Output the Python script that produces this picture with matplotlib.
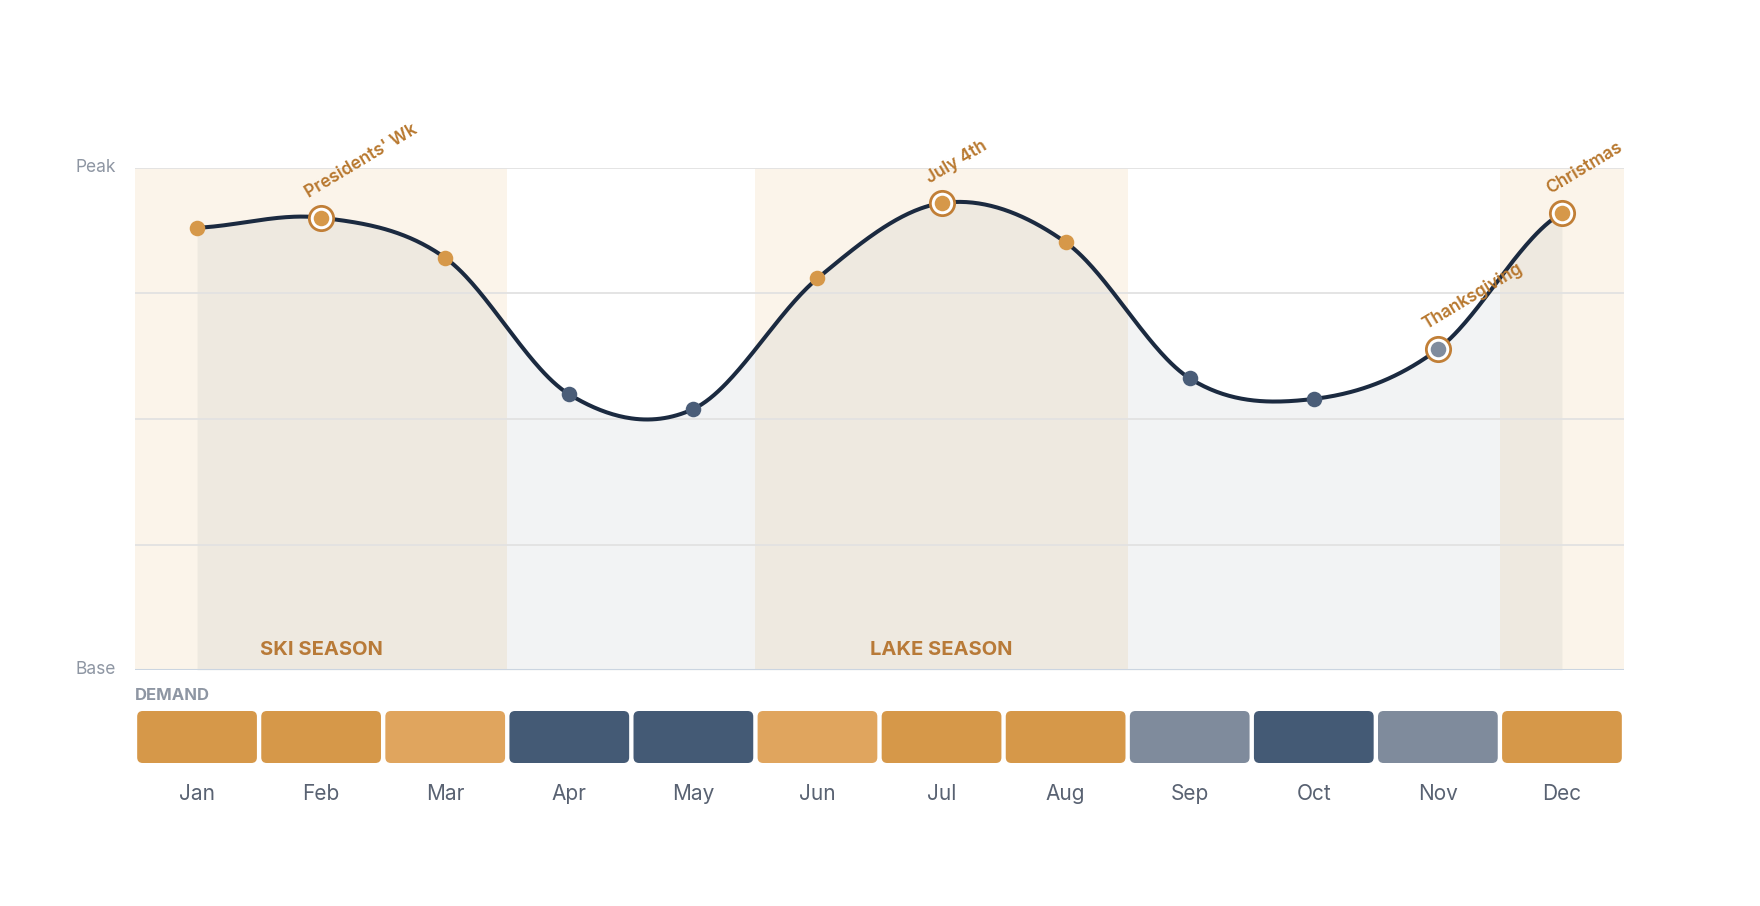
import numpy as np
import matplotlib
matplotlib.use("Agg")
import matplotlib.pyplot as plt
from matplotlib.patches import FancyBboxPatch
from matplotlib.transforms import blended_transform_factory

plt.rcParams['font.family'] = ['Inter', 'DejaVu Sans']

# ---------------- data ----------------
months = ["Jan", "Feb", "Mar", "Apr", "May", "Jun",
          "Jul", "Aug", "Sep", "Oct", "Nov", "Dec"]
demand_index = [88.1, 90.1, 82.1, 54.9, 52.0, 78.0,
                93.0, 85.2, 58.1, 54.0, 63.9, 91.0]
demand_level = ["high", "high", "mid", "low", "low", "mid",
                "high", "high", "shoulder", "low", "shoulder", "high"]
dot_group = ["warm", "warm", "warm", "cool", "cool", "warm",
             "warm", "warm", "cool", "cool", "soft", "warm"]
events = {1: "Presidents' Wk", 6: "July 4th", 10: "Thanksgiving", 11: "Christmas"}
seasons = [("SKI SEASON", -0.5, 2.5, True), ("LAKE SEASON", 4.5, 7.5, True),
           ("", 10.5, 11.5, False)]
y_ticks = [0, 25, 50, 75, 100]
y_tick_labels = {0: "Base", 100: "Peak"}

# ---------------- styles ----------------
level_colors = {"high": "#d69849", "mid": "#e0a55e",
                "low": "#445a75", "shoulder": "#7f8b9c"}
dot_colors = {"warm": "#d69849", "cool": "#4a5d78", "soft": "#808c9e"}
band_color = "#fbf4ea"
line_color = "#1b2a40"
accent = "#b8782f"
muted = "#8e96a3"

W, H = 1760, 906
fig = plt.figure(figsize=(W / 100, H / 100), dpi=100)

L, R = 135, 1624
TOP, BASE = 168, 670
ax = fig.add_axes([L / W, 1 - BASE / H, (R - L) / W, (BASE - TOP) / H])
ax.set_xlim(-0.5, 11.5)
ax.set_ylim(0, 100)
ax.axis("off")

x = np.arange(len(months))
y = np.array(demand_index)

# Catmull-Rom style smooth curve (uniform)
def catmull(xs, ys, n=60):
    m = np.zeros_like(ys)
    m[1:-1] = (ys[2:] - ys[:-2]) / 2.0
    m[0] = (ys[1] - ys[0]) / 2.0
    m[-1] = (ys[-1] - ys[-2]) / 2.0
    X, Y = [], []
    for i in range(len(xs) - 1):
        t = np.linspace(0, 1, n, endpoint=(i == len(xs) - 2))
        h00 = 2 * t**3 - 3 * t**2 + 1
        h10 = t**3 - 2 * t**2 + t
        h01 = -2 * t**3 + 3 * t**2
        h11 = t**3 - t**2
        X.append(xs[i] + t * (xs[i + 1] - xs[i]))
        Y.append(h00 * ys[i] + h10 * m[i] + h01 * ys[i + 1] + h11 * m[i + 1])
    return np.concatenate(X), np.concatenate(Y)

cx, cy = catmull(x.astype(float), y)

# season bands
for name, x0, x1, _ in seasons:
    ax.axvspan(x0, x1, ymin=0, ymax=1, color=band_color, zorder=0, lw=0)

# area fill
ax.fill_between(cx, 0, cy, color="#1f2d3d", alpha=0.055, lw=0, zorder=1)

# gridlines
for t in y_ticks[1:]:
    ax.axhline(t, color="#e2e2e2", lw=1.3, zorder=1.5)
ax.axhline(0, color="#cbd5e1", lw=2.2, zorder=2)

# y labels
for t, lab in y_tick_labels.items():
    ax.annotate(lab, (-0.5, t), xytext=(-19, 0), textcoords="offset pixels",
                ha="right", va="center", fontsize=12.5, color=muted)

# season labels
for name, x0, x1, show in seasons:
    if show:
        ax.text((x0 + x1) / 2, 4.0, name, ha="center", va="center",
                fontsize=14.5, fontweight="bold", color="#b87a38", zorder=3)

# curve
ax.plot(cx, cy, color=line_color, lw=2.9, zorder=4, solid_capstyle="round")

# markers
for i in range(len(months)):
    c = dot_colors[dot_group[i]]
    if i in events:
        ax.plot(x[i], y[i], "o", ms=17.5, mfc="white", mec="#c17f37", mew=2.0,
                zorder=5)
    ax.plot(x[i], y[i], "o", ms=11.2, mfc=c, mec="none", zorder=6)

# event annotations
for i, lab in events.items():
    ax.annotate(lab, (x[i], y[i]), xytext=(-10, 16), textcoords="offset pixels",
                rotation=31, rotation_mode="anchor", ha="left", va="bottom",
                fontsize=12.5, fontweight="semibold", color=accent,
                annotation_clip=False, zorder=7)

# ---------------- demand strip ----------------
D_TOP, D_BOT = 711, 763
axd = fig.add_axes([L / W, 1 - D_BOT / H, (R - L) / W, (D_BOT - D_TOP) / H])
axd.set_xlim(-0.5, 11.5)
axd.set_ylim(0, 1)
axd.axis("off")
px_per_x = (R - L) / 12.0
px_per_y = (D_BOT - D_TOP) / 1.0
bw = 0.965
for i, lvl in enumerate(demand_level):
    p = FancyBboxPatch((x[i] - bw / 2, 0), bw, 1,
                       boxstyle="round,pad=0,rounding_size=0.045",
                       mutation_aspect=px_per_x / px_per_y,
                       fc=level_colors[lvl], ec="none")
    axd.add_patch(p)

trans = blended_transform_factory(axd.transData, axd.transAxes)
for i, m in enumerate(months):
    axd.text(x[i], -0.6, m, transform=trans, ha="center", va="center",
             fontsize=15, color="#596272")

fig.text(L / W, 1 - 696 / H, "DEMAND", ha="left", va="center",
         fontsize=12, fontweight="bold", color=muted)

fig.savefig("out.png", dpi=100, facecolor="white")
